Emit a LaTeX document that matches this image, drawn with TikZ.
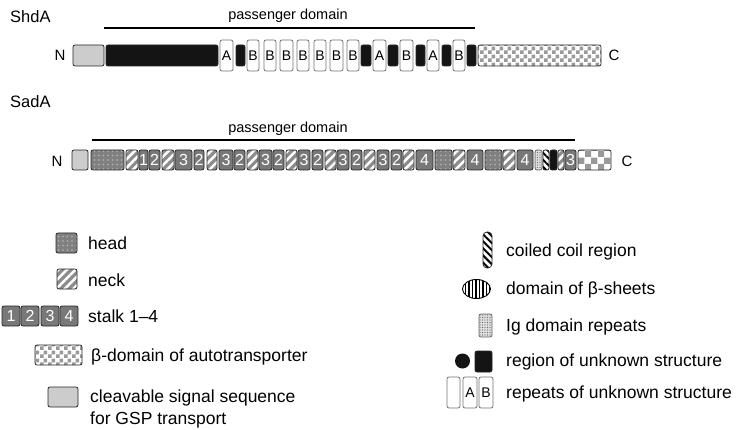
\documentclass[tikz,border=0pt]{standalone}
\usepackage{fontspec}
\setmainfont{Liberation Sans}
\usetikzlibrary{patterns.meta}

% checker fill for the beta-domain (two sizes)
\pgfdeclarepattern{
  name=checks, type=uncolored,
  bottom left={\pgfpointorigin}, top right={\pgfpoint{8pt}{8pt}},
  tile size={\pgfpoint{8pt}{8pt}},
  code={
    \pgfpathrectangle{\pgfpointorigin}{\pgfpoint{4pt}{4pt}}
    \pgfpathrectangle{\pgfpoint{4pt}{4pt}}{\pgfpoint{4pt}{4pt}}
    \pgfusepath{fill}
  }
}
\pgfdeclarepattern{
  name=bigchecks, type=uncolored,
  bottom left={\pgfpointorigin}, top right={\pgfpoint{13pt}{13pt}},
  tile size={\pgfpoint{13pt}{13pt}},
  code={
    \pgfpathrectangle{\pgfpointorigin}{\pgfpoint{6.5pt}{6.5pt}}
    \pgfpathrectangle{\pgfpoint{6.5pt}{6.5pt}}{\pgfpoint{6.5pt}{6.5pt}}
    \pgfusepath{fill}
  }
}

\tikzset{
  seg/.style={draw=black!85, line width=0.75pt, rounded corners=2pt},
  signal/.style={seg, fill=black!20},
  unknown/.style={seg, fill=black!92},
  repeatbox/.style={draw=black!55, line width=0.75pt, rounded corners=2pt, fill=white},
  stalk/.style={seg, fill=black!53},
  headbox/.style={seg, preaction={fill=black!50}, pattern={Dots[distance=4.5pt,radius=0.8pt]}, pattern color=black!28},
  neckbox/.style={seg, preaction={fill=black!45}, pattern={Lines[angle=45,distance=6pt,line width=2.5pt]}, pattern color=white},
  betadom/.style={seg, preaction={fill=white}, pattern=checks, pattern color=black!40},
  igbox/.style={seg, draw=black!60, preaction={fill=black!12}, pattern={Dots[distance=2.5pt,radius=0.6pt]}, pattern color=black!60},
  coilbox/.style={seg, preaction={fill=white}, pattern={Lines[angle=-45,distance=5pt,line width=2pt]}, pattern color=black},
  sheets/.style={draw=black, line width=0.9pt, preaction={fill=white}, pattern={Lines[angle=90,distance=3.5pt,line width=1.5pt]}, pattern color=black},
  protlabel/.style={font=\fontsize{16.5}{19}\selectfont, anchor=base west, inner sep=0pt},
  endlabel/.style={font=\fontsize{15}{18}\selectfont, anchor=base, inner sep=0pt},
  domlabel/.style={font=\fontsize{14.5}{17}\selectfont, anchor=base, inner sep=0pt},
  boxletter/.style={font=\fontsize{14}{16}\selectfont, inner sep=0pt},
  stalknum/.style={font=\fontsize{16}{18}\selectfont, text=white, inner sep=0pt},
  legtext/.style={font=\fontsize{17.5}{21}\selectfont, anchor=base west, inner sep=0pt}
}

\begin{document}
\begin{tikzpicture}[x=1pt, y=-1pt]
  \useasboundingbox (0,0) rectangle (738,430);

  % ShdA
  \node[protlabel] (shda) at (10,23) {ShdA};
  \node[domlabel] (passA) at (288,19.5) {passenger domain};
  \draw[line width=1.8pt] (104,28) -- (475,28);
  \node[endlabel] (nA) at (60,61) {N};
  \draw[signal] (73,45) rectangle (104,66);
  \foreach \a/\b in {106/218, 236/245, 361/371, 388/398, 416/425, 442/451, 467/476}
    \draw[unknown] (\a,45) rectangle (\b,66);
  \foreach \a/\b/\t in {220/233/A, 247/259/B, 264/276/B, 280/293/B, 297/309/B,
                        314/326/B, 330/343/B, 347/359/B, 373/386/A, 400/413/B,
                        427/439/A, 453/465/B} {
    \draw[repeatbox] (\a,40) rectangle (\b,71);
    \node[boxletter] (rA\a) at ({(\a+\b)/2},55.5) {\t};
  }
  \draw[betadom] (478,45) rectangle (601,66);
  \node[endlabel] (cA) at (614,61) {C};

  % SadA
  \node[protlabel] (sada) at (10,108) {SadA};
  \node[domlabel] (passB) at (288,133) {passenger domain};
  \draw[line width=1.8pt] (92,140) -- (575,140);
  \node[endlabel] (nB) at (57,166.5) {N};
  \draw[signal] (72,150) rectangle (88,170);
  \foreach \a/\b in {91/124, 435/452, 485/502}
    \draw[headbox] (\a,150) rectangle (\b,170);
  \foreach \a/\b in {126/138, 162/174, 207/217, 247/258, 286/297, 325/336,
                     364/375, 403/414, 453/465, 503/515, 558/564}
    \draw[neckbox] (\a,150) rectangle (\b,170);
  \foreach \a/\b/\n in {139/148/1, 149/160/2, 175/192/3, 194/204/2, 219/233/3,
                        234/245/2, 259/272/3, 273/284/2, 298/310/3, 312/323/2,
                        337/349/3, 351/362/2, 377/389/3, 391/402/2, 416/433/4,
                        467/483/4, 517/533/4, 565/576/3} {
    \draw[stalk] (\a,150) rectangle (\b,170);
    \node[stalknum] (sB\a) at ({(\a+\b)/2},160) {\n};
  }
  \draw[igbox] (535,150) rectangle (542,170);
  \draw[coilbox] (543,150) rectangle (549,170);
  \draw[unknown] (550,150) rectangle (557,170);
  \draw[betadom, pattern=bigchecks] (578,150) rectangle (611,170);
  \node[endlabel] (cB) at (627,166.5) {C};

  % Legende links
  \draw[headbox] (56,233) rectangle (77,253);
  \node[legtext] (lhead) at (88,249.3) {head};
  \draw[neckbox] (57,269) rectangle (77,289);
  \node[legtext] (lneck) at (88,286) {neck};
  \foreach \a/\n in {2/1, 21/2, 41/3, 60/4} {
    \draw[stalk] (\a,306) rectangle (\a+18,326);
    \node[stalknum] (ls\n) at (\a+9,316) {\n};
  }
  \node[legtext] (lstalk) at (88,322.7) {stalk 1–4};
  \draw[betadom] (35,345) rectangle (82,365);
  \node[legtext] (lbeta) at (91,361.7) {β-domain of autotransporter};
  \draw[signal] (48,387) rectangle (78,407);
  \node[legtext] (lsig) at (90,402.7) {cleavable signal sequence};
  \node[legtext] (lsigb) at (90,424) {for GSP transport};

  % Legende rechts
  \draw[coilbox, rounded corners=4pt] (483,232) rectangle (492,268);
  \node[legtext] (lcoil) at (506,256.7) {coiled coil region};
  \draw[sheets] (476.5,289) ellipse [x radius=14pt, y radius=9.5pt];
  \node[legtext] (lsheet) at (506,294) {domain of β-sheets};
  \draw[igbox] (479,314) rectangle (492,337);
  \node[legtext] (lig) at (506,331.7) {Ig domain repeats};
  \fill[black!92] (462.5,361) circle [radius=7.5pt];
  \draw[unknown] (475,351) rectangle (492,372);
  \node[legtext] (lunk) at (506,366.7) {region of unknown structure};
  \draw[repeatbox] (447,377) rectangle (460,408);
  \draw[repeatbox] (463,377) rectangle (477,408);
  \node[boxletter] (lrA) at (470,392.5) {A};
  \draw[repeatbox] (479,377) rectangle (493,408);
  \node[boxletter] (lrB) at (486,392.5) {B};
  \node[legtext] (lrep) at (506,398.3) {repeats of unknown structure};
\end{tikzpicture}
\end{document}
